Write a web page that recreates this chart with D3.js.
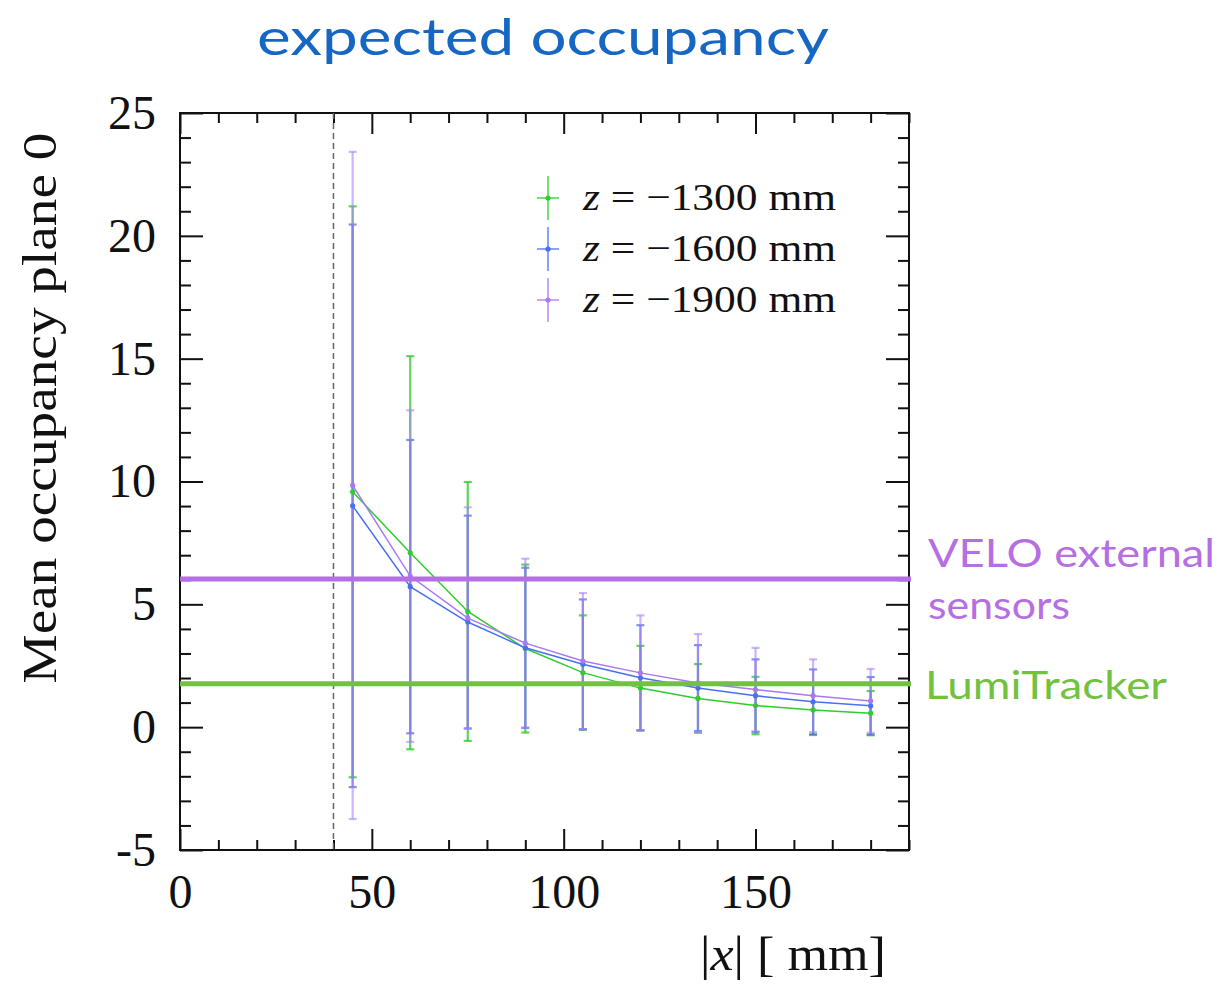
<!DOCTYPE html>
<html>
<head>
<meta charset="utf-8">
<script src="https://cdn.jsdelivr.net/npm/d3@7"></script>
<style>
  body { margin: 0; background: #fff; }
  svg { display: block; }
  .tick text { font-family: "Liberation Serif", "DejaVu Serif", serif; }
</style>
</head>
<body>
<svg id="chart" width="1220" height="984"></svg>
<script>
// positions |x| in mm
var xs = [45, 60, 75, 90, 105, 120, 135, 150, 165, 180];

// mean occupancy and symmetric errors
var occ1300 = [9.58, 7.10, 4.71, 3.20, 2.22, 1.59, 1.17, 0.88, 0.70, 0.57];
var err1300 = [11.62, 8.0, 5.27, 3.42, 2.33, 1.72, 1.40, 1.17, 1.02, 0.90];
var occ1600 = [9.01, 5.72, 4.28, 3.23, 2.56, 2.01, 1.59, 1.28, 1.03, 0.87];
var err1600 = [11.45, 5.97, 4.33, 3.26, 2.64, 2.14, 1.75, 1.48, 1.32, 1.17];
var occ1900 = [9.84, 6.15, 4.44, 3.42, 2.69, 2.21, 1.80, 1.53, 1.28, 1.07];
var err1900 = [13.58, 6.75, 4.51, 3.44, 2.77, 2.34, 1.99, 1.70, 1.48, 1.30];

var seriesNames = ["z = \u22121300 mm", "z = \u22121600 mm", "z = \u22121900 mm"];
var seriesZ = ["\u22121300", "\u22121600", "\u22121900"];

var xTicks = [0, 50, 100, 150];
var yTicks = [-5, 0, 5, 10, 15, 20, 25];
var yTickLabels = ["-5", "0", "5", "10", "15", "20", "25"];

var refLines = [
  { name: "VELO external sensors", value: 6.03, lines: ["VELO external", "sensors"], color: "#b56fe3" },
  { name: "LumiTracker", value: 1.77, lines: ["LumiTracker"], color: "#72c140" }
];
var cutX = 40;

var st = [
  { id: seriesNames[0], z: seriesZ[0], y: occ1300, e: err1300, color: "#2fcc2f", bar: "rgba(40,200,40,0.75)" },
  { id: seriesNames[1], z: seriesZ[1], y: occ1600, e: err1600, color: "#4a6ff2", bar: "rgba(80,100,230,0.7)" },
  { id: seriesNames[2], z: seriesZ[2], y: occ1900, e: err1900, color: "#a879f2", bar: "rgba(170,130,250,0.6)" }
];

var svg = d3.select("#chart"),
    margin = { top: 113, right: 311, bottom: 134, left: 180 },
    width = 1220 - margin.left - margin.right,
    height = 984 - margin.top - margin.bottom,
    g = svg.append("g").attr("transform", "translate(" + margin.left + "," + margin.top + ")");

var x = d3.scaleLinear().domain([0, 190]).range([0, width]);
var y = d3.scaleLinear().domain([-5, 25]).range([height, 0]);

var serif = "'Liberation Serif', 'DejaVu Serif', serif";
var sans = "Lato, 'Open Sans', sans-serif";

// title
svg.append("text")
    .attr("x", 543).attr("y", 55)
    .attr("text-anchor", "middle")
    .attr("fill", "#1667c4")
    .style("font", "50px " + sans)
    .attr("textLength", 572).attr("lengthAdjust", "spacingAndGlyphs")
    .text("expected occupancy");

// ticks, all pointing inward
var minorX = d3.range(0, 191, 10).filter(function(d) { return d % 50 != 0; });
var minorY = d3.range(-5, 26, 1).filter(function(d) { return d % 5 != 0; });

function tickAxis(axis, vals, size) {
  return axis.tickValues(vals).tickSize(size).tickFormat("");
}
g.append("g").attr("transform", "translate(0," + height + ")").call(tickAxis(d3.axisBottom(x), minorX, -10));
g.append("g").attr("transform", "translate(0," + height + ")").call(tickAxis(d3.axisBottom(x), xTicks, -21));
g.append("g").call(tickAxis(d3.axisTop(x), minorX, -10));
g.append("g").call(tickAxis(d3.axisTop(x), xTicks, -21));
g.append("g").call(tickAxis(d3.axisLeft(y), minorY, -11));
g.append("g").call(tickAxis(d3.axisLeft(y), yTicks, -23));
g.append("g").attr("transform", "translate(" + width + ",0)").call(tickAxis(d3.axisRight(y), minorY, -11));
g.append("g").attr("transform", "translate(" + width + ",0)").call(tickAxis(d3.axisRight(y), yTicks, -23));
g.selectAll(".domain").remove();
g.selectAll(".tick line").attr("stroke", "#111").attr("stroke-width", 2);

// tick labels
g.append("g")
    .attr("transform", "translate(0," + height + ")")
    .call(d3.axisBottom(x).tickValues(xTicks).tickSize(0))
    .call(function(a) { a.select(".domain").remove(); })
    .selectAll("text").attr("fill", "#111").style("font-size", "48px")
    .attr("y", 58).attr("dy", 0);

g.append("g")
    .call(d3.axisLeft(y).tickValues(yTicks).tickSize(0).tickPadding(24)
      .tickFormat(function(d, i) { return yTickLabels[i]; }))
    .call(function(a) { a.select(".domain").remove(); })
    .selectAll("text").attr("fill", "#111").style("font-size", "48px");

// axis titles
svg.append("text")
    .attr("transform", "translate(56,408) rotate(-90)")
    .attr("text-anchor", "middle")
    .attr("fill", "#111")
    .style("font", "48px " + serif)
    .attr("textLength", 551).attr("lengthAdjust", "spacingAndGlyphs")
    .text("Mean occupancy plane 0");

var xl = svg.append("text")
    .attr("x", 700).attr("y", 970)
    .attr("fill", "#111")
    .style("font", "48px " + serif)
    .attr("textLength", 186).attr("lengthAdjust", "spacingAndGlyphs");
xl.append("tspan").text("|");
xl.append("tspan").style("font-style", "italic").text("x");
xl.append("tspan").text("| [ mm]");

// frame
g.append("rect")
    .attr("width", width).attr("height", height)
    .attr("fill", "none").attr("stroke", "#111").attr("stroke-width", 2);

// dashed cut
g.append("line")
    .attr("x1", x(cutX)).attr("x2", x(cutX))
    .attr("y1", 0).attr("y2", height)
    .attr("stroke", "#666").attr("stroke-width", 1.5)
    .attr("stroke-dasharray", "6,4");

// error bars
var cap = 4;
st.forEach(function(s) {
  var eb = g.append("g").attr("stroke", s.bar).attr("stroke-width", 2.2);
  xs.forEach(function(xv, i) {
    var y0 = y(s.y[i] - s.e[i]), y1 = y(s.y[i] + s.e[i]);
    eb.append("line").attr("x1", x(xv)).attr("x2", x(xv)).attr("y1", y0).attr("y2", y1);
    eb.append("line").attr("x1", x(xv) - cap).attr("x2", x(xv) + cap).attr("y1", y0).attr("y2", y0);
    eb.append("line").attr("x1", x(xv) - cap).attr("x2", x(xv) + cap).attr("y1", y1).attr("y2", y1);
  });
});

var line = d3.line()
    .x(function(d) { return x(d[0]); })
    .y(function(d) { return y(d[1]); });

st.forEach(function(s) {
  var pts = xs.map(function(xv, i) { return [xv, s.y[i]]; });
  g.append("path")
      .attr("d", line(pts))
      .attr("fill", "none")
      .attr("stroke", s.color)
      .attr("stroke-width", 1.5);
  g.selectAll(null).data(pts).enter().append("circle")
      .attr("cx", function(d) { return x(d[0]); })
      .attr("cy", function(d) { return y(d[1]); })
      .attr("r", 2.6)
      .attr("fill", s.color);
});

// reference lines
refLines.forEach(function(r) {
  g.append("line")
      .attr("x1", 0).attr("x2", width + 2)
      .attr("y1", y(r.value)).attr("y2", y(r.value))
      .attr("stroke", r.color).attr("stroke-width", 5);
});
var labelPos = [[[928, 567, 287], [928, 619, 142]], [[925, 699, 242]]];
refLines.forEach(function(r, k) {
  r.lines.forEach(function(l, j) {
    var p = labelPos[k][j];
    svg.append("text")
        .attr("x", p[0]).attr("y", p[1])
        .attr("fill", r.color)
        .style("font", "39px " + sans)
        .attr("textLength", p[2]).attr("lengthAdjust", "spacingAndGlyphs")
        .text(l);
  });
});

// legend
var leg = svg.append("g").attr("transform", "translate(548,198)");
st.forEach(function(s, i) {
  var row = leg.append("g").attr("transform", "translate(0," + (i * 51) + ")");
  row.append("line").attr("x1", 0).attr("x2", 0).attr("y1", -22).attr("y2", 22)
      .attr("stroke", s.color).attr("stroke-width", 1.3);
  row.append("line").attr("x1", -11).attr("x2", 11).attr("y1", 0).attr("y2", 0)
      .attr("stroke", s.color).attr("stroke-width", 1.3);
  row.append("circle").attr("r", 2.6).attr("fill", s.color);
  var t = row.append("text")
      .attr("x", 35).attr("y", 12)
      .attr("fill", "#111")
      .style("font", "38px " + serif)
      .attr("textLength", 253).attr("lengthAdjust", "spacingAndGlyphs");
  t.append("tspan").style("font-style", "italic").text("z");
  t.append("tspan").text(" = " + s.z + " mm");
});
</script>
</body>
</html>
